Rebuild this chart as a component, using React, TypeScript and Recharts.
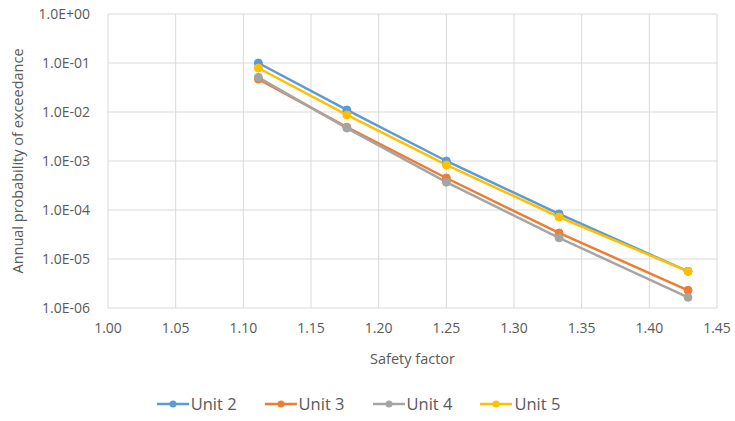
import { CartesianGrid, Legend, Line, LineChart, XAxis, YAxis } from "recharts";

const safetyFactors = [1.1111, 1.1765, 1.25, 1.3333, 1.4286];
const unit2 = [0.1, 0.011, 0.001, 8.3e-5, 5.6e-6];
const unit3 = [0.047, 0.0049, 0.00045, 3.4e-5, 2.3e-6];
const unit4 = [0.051, 0.0047, 0.00037, 2.7e-5, 1.65e-6];
const unit5 = [0.079, 0.0087, 0.00083, 7.2e-5, 5.6e-6];

const xTicks = [1.0, 1.05, 1.1, 1.15, 1.2, 1.25, 1.3, 1.35, 1.4, 1.45];
const yTicks = [1e-6, 1e-5, 1e-4, 1e-3, 1e-2, 1e-1, 1];

const series = [
  { key: "u2", name: "Unit 2", color: "#5B9BD5" },
  { key: "u3", name: "Unit 3", color: "#ED7D31" },
  { key: "u4", name: "Unit 4", color: "#A5A5A5" },
  { key: "u5", name: "Unit 5", color: "#FFC000" },
];

const data = safetyFactors.map((sf, i) => ({
  sf,
  u2: unit2[i],
  u3: unit3[i],
  u4: unit4[i],
  u5: unit5[i],
}));

const font = "'Open Sans', sans-serif";
const textColor = "#595959";

function sci(v: number) {
  const exp = Math.round(Math.log10(v));
  const sign = exp < 0 ? "-" : "+";
  const abs = Math.abs(exp).toString().padStart(2, "0");
  return `1.0E${sign}${abs}`;
}

function LegendContent({ payload }: any) {
  return (
    <div
      style={{
        display: "flex",
        justifyContent: "center",
        gap: 28,
        paddingTop: 22,
        fontFamily: font,
        fontSize: 16.5,
        color: textColor,
      }}
    >
      {(payload || []).map((p: any) => (
        <div key={p.value} style={{ display: "flex", alignItems: "center" }}>
          <svg width={32} height={12} style={{ marginRight: 2 }}>
            <line x1={0} y1={6} x2={32} y2={6} stroke={p.color} strokeWidth={2.5} />
            <circle cx={16} cy={6} r={3.5} fill={p.color} />
          </svg>
          <span>{p.value}</span>
        </div>
      ))}
    </div>
  );
}

export default function App() {
  return (
    <div style={{ position: "absolute", left: 0, top: 0, width: 735, height: 421, background: "#fff" }}>
      <LineChart width={735} height={421} data={data} margin={{ top: 14, right: 18, left: 0, bottom: 0 }}>
        <CartesianGrid stroke="#D9D9D9" strokeWidth={1} />
        <XAxis
          dataKey="sf"
          type="number"
          domain={[1, 1.45]}
          ticks={xTicks}
          tickFormatter={(v: number) => v.toFixed(2)}
          axisLine={false}
          tickLine={false}
          height={62}
          tick={{ fill: textColor, fontSize: 14, fontFamily: font }}
          tickMargin={9}
          label={{ value: "Safety factor", position: "insideBottom", offset: 6, fill: textColor, fontSize: 14.5, fontFamily: font }}
        />
        <YAxis
          scale="log"
          type="number"
          domain={[1e-6, 1]}
          ticks={yTicks}
          allowDataOverflow
          tickFormatter={sci}
          axisLine={false}
          tickLine={false}
          width={108}
          tick={{ fill: textColor, fontSize: 14, fontFamily: font }}
          tickMargin={12}
          label={{ value: "Annual probability of exceedance", angle: -90, position: "insideLeft", offset: 18, style: { textAnchor: "middle" }, fill: textColor, fontSize: 14.5, fontFamily: font }}
        />
        <Legend verticalAlign="bottom" height={51} content={<LegendContent />} />
        {series.map((s) => (
          <Line
            key={s.key}
            dataKey={s.key}
            name={s.name}
            stroke={s.color}
            strokeWidth={2.5}
            dot={{ r: 4, fill: s.color, stroke: s.color, strokeWidth: 1 }}
            isAnimationActive={false}
          />
        ))}
      </LineChart>
    </div>
  );
}
